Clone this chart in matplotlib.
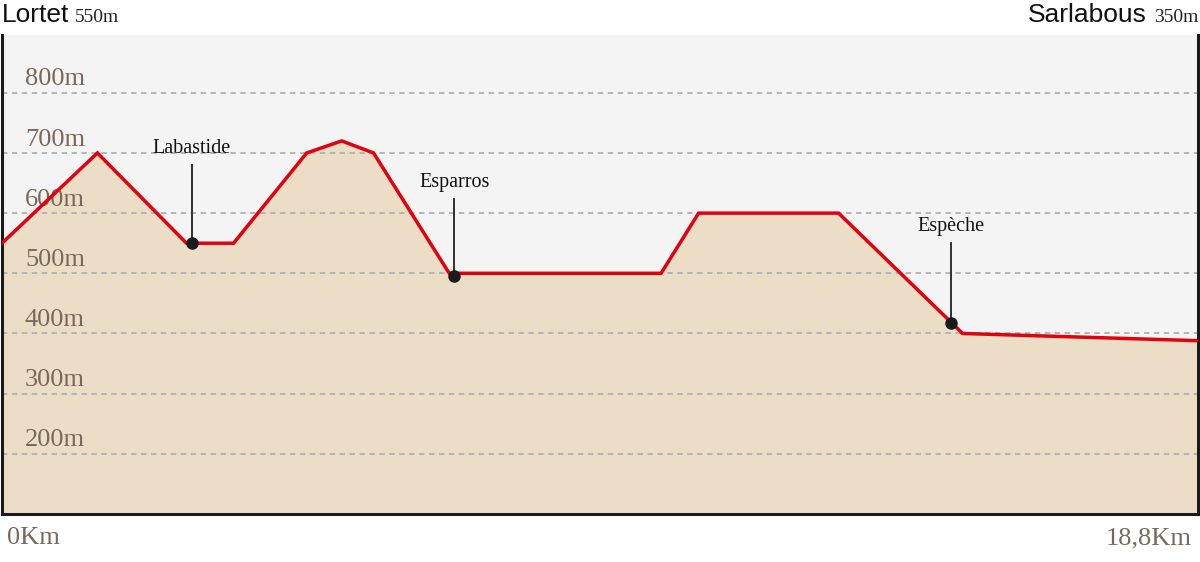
import matplotlib
matplotlib.use("Agg")
import matplotlib.pyplot as plt

# Data
dist_km = [0, 1.5, 2.9, 3.64, 4.79, 5.34, 5.84, 7.03, 10.36, 10.95, 13.15, 15.1, 18.8]
elev_m = [550, 700, 550, 550, 700, 720, 700, 500, 500, 600, 600, 400, 388]
place_names = ["Labastide", "Esparros", "Espèche"]
place_km = [2.98, 7.11, 14.92]
place_elev = [550, 495, 417]
label_elev = [708, 651, 578]
grid_levels = [200, 300, 400, 500, 600, 700, 800]
start_name, start_elev = "Lortet", "550m"
end_name, end_elev = "Sarlabous", "350m"
x_labels = ["0Km", "18,8Km"]

W, H = 1200, 562
fig = plt.figure(figsize=(W / 100, H / 100), dpi=100)
ax = fig.add_axes([2 / W, (H - 514) / H, 1196 / W, (514 - 35) / H])
ax.set_xlim(0, 18.8)
ax.set_ylim(100, 896)
ax.set_facecolor("#f4f4f4")

serif = ["Liberation Serif", "DejaVu Serif"]
brown = "#7a6858"

ax.fill_between(dist_km, elev_m, 100, color="#ecdec6", zorder=1)

for g in grid_levels:
    ax.axhline(g, color="#b0b0b0", lw=1.3, ls=(0, (3, 2.5)), zorder=2)
    ax.text(0.36, g + 4, f"{g}m", fontsize=19, family=serif, color=brown,
            ha="left", va="bottom", zorder=3)

ax.plot(dist_km, elev_m, color="#e3000f", lw=2.5, zorder=4, solid_joinstyle="miter")

for name, km, e, le in zip(place_names, place_km, place_elev, label_elev):
    ax.plot([km, km], [e, le - 28], color="#222222", lw=1.3, zorder=5)
    ax.plot(km, e, "o", color="#1a1a1a", ms=8, zorder=6)
    ax.text(km, le, name, fontsize=14.5, family=serif, color="#111111",
            ha="center", va="center", zorder=6)

ax.spines["top"].set_visible(False)
for side in ["left", "bottom", "right"]:
    ax.spines[side].set_color("#1a1a1a")
    ax.spines[side].set_linewidth(2.2)
ax.set_xticks([])
ax.set_yticks([])

# Header texts
fig.text(2 / W, 1 - 15 / H, start_name, fontsize=19, family=["Liberation Sans"],
         color="#111111", ha="left", va="center")
fig.text(75 / W, 1 - 18 / H, start_elev, fontsize=14, family=serif,
         color="#222222", ha="left", va="center")
fig.text(1198 / W, 1 - 18 / H, end_elev, fontsize=14, family=serif,
         color="#222222", ha="right", va="center")
fig.text(1147 / W, 1 - 15 / H, end_name, fontsize=19, family=["Liberation Sans"],
         color="#111111", ha="right", va="center")

fig.text(7 / W, 1 - 538 / H, x_labels[0], fontsize=19, family=serif,
         color=brown, ha="left", va="center")
fig.text(1192 / W, 1 - 538 / H, x_labels[1], fontsize=19, family=serif,
         color=brown, ha="right", va="center")

fig.savefig("out.png", dpi=100, facecolor="white")
